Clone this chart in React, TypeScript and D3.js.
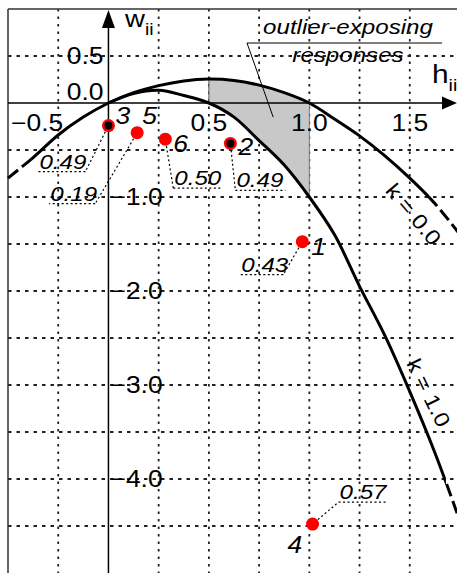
import React from "react";
import * as d3 from "d3";

const width = 457;
const height = 573;

const hGrid = [0, 0.125, 0.25, 0.375, 0.5, 0.625, 0.75, 0.875, 1.0, 1.125, 1.25, 1.375, 1.5, 1.625, 1.75];
const wK0 = [0, 0.11, 0.185, 0.235, 0.255, 0.24, 0.19, 0.11, 0, -0.17, -0.35, -0.56, -0.8, -1.07, -1.4];
const wK1 = [0, 0.1, 0.135, 0.08, 0, -0.15, -0.4, -0.66, -1.0, -1.4, -1.95, -2.47, -3.07, -3.72, -4.45];
// k = 0 curve also continues to the left of the w axis
const hLeft = [-0.5, -0.375, -0.25, -0.125];
const wLeftK0 = [-0.8, -0.58, -0.34, -0.15];

// responses
const pointIds = ["1", "2", "3", "4", "5", "6"];
const pointH = [0.965, 0.607, 0.0, 1.016, 0.143, 0.283];
const pointW = [-1.475, -0.43, -0.24, -4.48, -0.316, -0.385];
const pointLev = [0.43, 0.49, 0.49, 0.57, 0.19, 0.5];
const ringed = [false, true, true, false, false, false];

const xTicks = [-0.5, 0.5, 1.0, 1.5];
const yTicksUp = [0.5, 0.0];
const yTicksDown = [-1.0, -2.0, -3.0, -4.0];
const xGrid = [-0.25, 0.25, 0.5, 0.75, 1.0, 1.25, 1.5];
const yGrid = [0.5, -0.5, -1.0, -1.5, -2.0, -2.5, -3.0, -3.5, -4.0, -4.5];

// where the curves stop being solid
const k0Solid = [-0.42, 1.6];
const k1Solid = [0, 1.68];
const shadeRange = [0.5, 1.0];

// curve labels: baseline centre in data units, angle
const curveLabels = [
  {text: "k = 0.0", h: 1.491, w: -1.234, angle: 50},
  {text: "k = 1.0", h: 1.561, w: -3.117, angle: 64},
];

// label placement (px, relative to the point)
const numOffset = [[9, 13], [8, 12], [7, -2], [-25, 29], [5, -9], [8, 13]];
const calloutElbow = [[-19, 33], [5, 47], [-23, 46], [26, -22], [-42, 71], [8, 49]];
const calloutLen = [-43, 50, -47, 49, -46, 49];

const xS = d3.scaleLinear().domain([-0.5, 1.75]).range([8, 460]);
const yS = d3.scaleLinear().domain([1, -5]).range([9, 573]);
const fmt1 = d3.format(".1f");
const fmt2 = d3.format(".2f");

const SX = 1.15; // the original lettering is a bit wide
const FONT = "'Liberation Sans', Arial, sans-serif";

function T({x, y, size, anchor = "start", italic = false, rotate = 0, children}: any) {
  return (
    <text
      transform={`translate(${x},${y}) rotate(${rotate}) scale(${SX},1)`}
      fontSize={size}
      textAnchor={anchor}
      fontStyle={italic ? "italic" : "normal"}
      fontFamily={FONT}
      fill="#000">
      {children}
    </text>
  );
}

export default function App() {
  const k0pts: [number, number][] = hLeft.map((h, i) => [h, wLeftK0[i]] as [number, number])
    .concat(hGrid.map((h, i) => [h, wK0[i]] as [number, number]));
  const k1pts: [number, number][] = hGrid.map((h, i) => [h, wK1[i]]);

  const line = d3.line<[number, number]>()
    .x(d => xS(d[0]))
    .y(d => yS(d[1]))
    .curve(d3.curveCatmullRom.alpha(0.5));

  const area = d3.area<number>()
    .x(h => xS(h))
    .y0((h, i) => yS(wK1[i]))
    .y1((h, i) => yS(wK0[i]))
    .curve(d3.curveCatmullRom.alpha(0.5));

  const i05 = hGrid.indexOf(shadeRange[0]);
  const i10 = hGrid.indexOf(shadeRange[1]);

  const gridStroke = "#222";

  return (
    <svg width={width} height={height}
      style={{position: "absolute", left: 0, top: 0, background: "#fff"}}>
      <defs>
        <clipPath id="shade">
          <rect x={xS(shadeRange[0])} y={0} width={xS(shadeRange[1]) - xS(shadeRange[0])} height={height} />
        </clipPath>
        <clipPath id="k0solid">
          <rect x={xS(k0Solid[0])} y={0} width={xS(k0Solid[1]) - xS(k0Solid[0])} height={height} />
        </clipPath>
        <clipPath id="k0dash">
          <rect x={0} y={0} width={xS(k0Solid[0])} height={height} />
          <rect x={xS(k0Solid[1])} y={0} width={width} height={height} />
        </clipPath>
        <clipPath id="k1solid">
          <rect x={xS(k1Solid[0])} y={0} width={xS(k1Solid[1]) - xS(k1Solid[0])} height={height} />
        </clipPath>
        <clipPath id="k1dash">
          <rect x={xS(k1Solid[1])} y={0} width={width} height={height} />
        </clipPath>
      </defs>

      {/* grid */}
      {xGrid.map(h => (
        <line key={"gx" + h} x1={xS(h)} x2={xS(h)} y1={yS(1)} y2={height}
          stroke={gridStroke} strokeWidth={1.8} strokeDasharray="2.5,5" />
      ))}
      {yGrid.map(w => (
        <line key={"gy" + w} x1={xS(-0.5)} x2={width} y1={yS(w)} y2={yS(w)}
          stroke={gridStroke} strokeWidth={1.8} strokeDasharray="3.5,5" />
      ))}

      {/* shaded outlier-exposing region */}
      <path d={area(hGrid) || ""} fill="#c8c8c8" clipPath="url(#shade)" />
      <line x1={xS(shadeRange[0])} x2={xS(shadeRange[0])} y1={yS(wK0[i05])} y2={yS(wK1[i05])} stroke="#555" strokeWidth={1} />
      <line x1={xS(shadeRange[1])} x2={xS(shadeRange[1])} y1={yS(wK0[i10])} y2={yS(wK1[i10])} stroke="#777" strokeWidth={1} />

      {/* frame */}
      <line x1={xS(-0.5)} x2={xS(-0.5)} y1={yS(1)} y2={height} stroke="#333" strokeWidth={1.5} />
      <line x1={xS(-0.5)} x2={width} y1={yS(1)} y2={yS(1)} stroke="#333" strokeWidth={1.5} />

      {/* axes */}
      <line x1={xS(-0.5)} x2={width - 12} y1={yS(0)} y2={yS(0)} stroke="#000" strokeWidth={1.5} />
      <path d={`M${width},${yS(0)} L${width - 15},${yS(0) - 6.5} L${width - 15},${yS(0) + 6.5} Z`} fill="#000" />
      <line x1={xS(0)} x2={xS(0)} y1={height} y2={26} stroke="#000" strokeWidth={1.5} />
      <path d={`M${xS(0)},10 L${xS(0) - 6.5},28 L${xS(0) + 6.5},28 Z`} fill="#000" />

      {/* curves */}
      <path d={line(k0pts) || ""} fill="none" stroke="#000" strokeWidth={3} clipPath="url(#k0solid)" />
      <path d={line(k0pts) || ""} fill="none" stroke="#000" strokeWidth={3} strokeDasharray="13,5" clipPath="url(#k0dash)" />
      <path d={line(k1pts) || ""} fill="none" stroke="#000" strokeWidth={3} clipPath="url(#k1solid)" />
      <path d={line(k1pts) || ""} fill="none" stroke="#000" strokeWidth={3} strokeDasharray="13,5" strokeDashoffset={-4} clipPath="url(#k1dash)" />

      {/* tick labels */}
      {xTicks.map(h => (
        <T key={"tx" + h} x={h === -0.5 ? xS(h) + 3 : xS(h)} y={yS(0) + 28} size={23}
          anchor={h === -0.5 ? "start" : "middle"}>{fmt1(h)}</T>
      ))}
      {yTicksUp.map(w => (
        <T key={"ty" + w} x={xS(0) - 5} y={w === 0 ? yS(0) - 3 : yS(w) + 8} size={23} anchor="end">{fmt1(w)}</T>
      ))}
      {yTicksDown.map(w => (
        <T key={"ty" + w} x={xS(0) + 2} y={yS(w) + 8} size={23}>{fmt1(w)}</T>
      ))}

      {/* axis titles */}
      <T x={125} y={27} size={24}>w<tspan fontSize={17} dy={8}>ii</tspan></T>
      <T x={432} y={83} size={26}>h<tspan fontSize={17} dy={8}>ii</tspan></T>

      {/* curve labels */}
      {curveLabels.map(c => (
        <T key={c.text} x={xS(c.h)} y={yS(c.w)} size={21} anchor="middle" rotate={c.angle}>{c.text}</T>
      ))}

      {/* callout for shaded region */}
      <T x={348} y={34} size={21} anchor="middle" italic>outlier-exposing</T>
      <T x={348} y={62} size={21} anchor="middle" italic>responses</T>
      <line x1={247} x2={442} y1={43} y2={43} stroke="#000" strokeWidth={1} />
      <line x1={247} y1={43} x2={xS(0.82)} y2={yS(-0.15)} stroke="#000" strokeWidth={1} />

      {/* leverage callouts */}
      {pointIds.map((id, i) => {
        const px = xS(pointH[i]);
        const py = yS(pointW[i]);
        const ex = px + calloutElbow[i][0];
        const ey = py + calloutElbow[i][1];
        const len = calloutLen[i];
        const dx = ex - px, dy = ey - py;
        const dl = Math.hypot(dx, dy);
        const sx = px + dx / dl * 7, sy = py + dy / dl * 7;
        return (
          <g key={"c" + id}>
            <line x1={sx} y1={sy} x2={ex} y2={ey} stroke="#000" strokeWidth={1.2} strokeDasharray="2,2.5" />
            <line x1={ex} y1={ey} x2={ex + len} y2={ey} stroke="#000" strokeWidth={1.2} strokeDasharray="2,2.5" />
            <T x={Math.min(ex, ex + len) + 1} y={ey - 3} size={21} italic>{fmt2(pointLev[i])}</T>
          </g>
        );
      })}

      {/* points */}
      {pointIds.map((id, i) => (
        <g key={"p" + id}>
          <circle cx={xS(pointH[i])} cy={yS(pointW[i])} r={6.5} fill="#ff0000" />
          {ringed[i] && <circle cx={xS(pointH[i])} cy={yS(pointW[i])} r={4} fill="#000" />}
          <T x={xS(pointH[i]) + numOffset[i][0]} y={yS(pointW[i]) + numOffset[i][1]} size={23} italic>{id}</T>
        </g>
      ))}
    </svg>
  );
}
